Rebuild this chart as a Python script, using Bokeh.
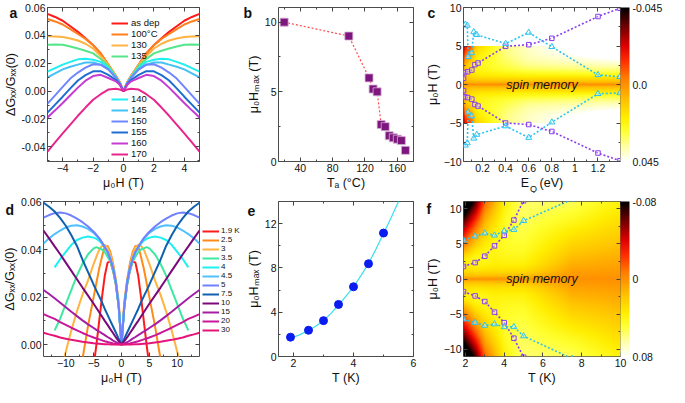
import numpy as np
from bokeh.plotting import figure
from bokeh.layouts import row, column
from bokeh.models import (LinearAxis, FixedTicker, CustomJSTickFormatter, PrintfTickFormatter,
                          Legend, LegendItem, Label, LinearColorMapper, ColorBar, Range1d, Title)
from bokeh.embed import file_html
from bokeh.resources import INLINE

FONT = "Liberation Sans"

# ---------------- panel a : dG/G vs field for several annealing temperatures ----------------
H_A = [0, 0.25, 0.5, 1, 1.5, 2, 2.5, 3, 3.5, 4, 4.5, 5]
A_ASDEP = [0, 0.0064, 0.011, 0.019, 0.027, 0.033, 0.038, 0.0425, 0.0465, 0.0505, 0.0532, 0.0554]
A_100 = [0, 0.0064, 0.011, 0.019, 0.027, 0.033, 0.0375, 0.041, 0.0445, 0.0478, 0.050, 0.0517]
A_130 = [0, 0.0062, 0.011, 0.019, 0.025, 0.0306, 0.034, 0.0363, 0.0378, 0.0388, 0.0392, 0.0393]
A_135 = [0, 0.006, 0.0105, 0.018, 0.023, 0.0271, 0.029, 0.0306, 0.032, 0.0332, 0.0334, 0.0333]
A_140 = [0, 0.0058, 0.010, 0.0168, 0.021, 0.0225, 0.0232, 0.0228, 0.021, 0.019, 0.0165, 0.014]
A_145 = [0, 0.0057, 0.0098, 0.0156, 0.019, 0.0205, 0.0205, 0.019, 0.0175, 0.0156, 0.0128, 0.0099]
A_150 = [0, 0.0056, 0.0096, 0.0156, 0.019, 0.0193, 0.0168, 0.0133, 0.009, 0.003, -0.003, -0.009]
A_155 = [0, 0.005, 0.008, 0.0117, 0.0143, 0.0142, 0.0115, 0.0076, 0.002, -0.004, -0.0097, -0.0154]
A_160 = [0, 0.0045, 0.007, 0.0094, 0.0117, 0.0108, 0.0075, 0.0025, -0.003, -0.0085, -0.0138, -0.0189]
A_170 = [0, 0.0012, 0.0017, 0.0011, -0.0022, -0.0062, -0.0118, -0.0177, -0.024, -0.0303, -0.0368, -0.0434]
A_LABELS = ["as dep", "100°C", "130", "135", "140", "145", "150", "155", "160", "170"]
A_COLORS = ["#ff1a1a", "#ff7f1a", "#ffb340", "#55e58a", "#1ef0f0", "#45c2f5", "#6f86ff",
            "#1e6ed2", "#c63cd2", "#e6268c"]

# ---------------- panel b : Hmax vs annealing temperature ----------------
TA_B = [20, 100, 125, 130, 135, 140, 145, 150, 155, 160, 165, 170]
HMAX_B = [10.0, 9.0, 6.0, 5.2, 5.0, 2.65, 2.5, 1.85, 1.7, 1.6, 1.5, 0.8]

# ---------------- panel c : map vs E_Q ----------------
# E_Q position of each panel-a curve in the colour map
E_COLS = [0.035, 0.044, 0.071, 0.107, 0.134, 0.161, 0.4, 0.6, 1.2, 1.39]
SQ_C_E = [0.035, 0.044, 0.071, 0.107, 0.134, 0.161, 0.4, 0.6, 0.8, 1.2, 1.39]
SQ_C_UP = [0.8, 1.55, 1.67, 1.88, 2.58, 2.79, 4.96, 5.17, 6.0, 8.83, 9.9]
SQ_C_DN = [-0.8, -1.6, -1.7, -1.9, -2.6, -2.8, -5.0, -5.2, -6.1, -8.9, -9.9]
TR_C_E = [0.051, 0.068, 0.075, 0.105, 0.124, 0.15, 0.4, 0.6, 0.8, 1.2, 1.39]
TR_C_UP = [7.8, 7.67, 3.6, 4.1, 6.83, 6.46, 5.3, 6.75, 4.9, 1.25, 1.0]
TR_C_DN = [-7.9, -7.6, -3.6, -4.1, -7.0, -6.5, -5.4, -6.9, -4.9, -1.2, -1.1]

# ---------------- panel d : dG/G vs field at several temperatures ----------------
H_D = [0, 0.5, 1, 1.5, 2, 2.5, 3, 3.5, 4, 4.5, 5, 6, 7, 8, 9, 10, 11, 12, 13, 14]
D_19 = [0, 0.016, 0.025, 0.031, 0.035, 0.0345, 0.029, 0.020, 0.010, 0.000, -0.009, -0.027, -0.045, -0.063, -0.081, -0.099, -0.117, -0.135, -0.153, -0.171]
D_25 = [0, 0.018, 0.027, 0.034, 0.039, 0.0415, 0.0415, 0.037, 0.032, 0.026, 0.020, 0.008, -0.006, -0.021, -0.037, -0.053, -0.069, -0.085, -0.101, -0.117]
D_3 = [0, 0.017, 0.026, 0.033, 0.038, 0.041, 0.042, 0.0415, 0.040, 0.037, 0.034, 0.027, 0.021, 0.014, 0.006, -0.003, -0.012, -0.022, -0.032, -0.042]
D_35 = [0, 0.016, 0.025, 0.031, 0.035, 0.037, 0.039, 0.040, 0.0405, 0.041, 0.0405, 0.038, 0.034, 0.029, 0.023, 0.017, 0.011, 0.006, None, None]
D_4 = [0, 0.016, 0.026, 0.032, 0.036, 0.039, 0.041, 0.0425, 0.0437, 0.0445, 0.045, 0.0455, 0.045, 0.044, 0.042, 0.039, 0.036, 0.0325, None, None]
D_45 = [0, 0.016, 0.026, 0.032, 0.036, 0.039, 0.041, 0.043, 0.0445, 0.0458, 0.047, 0.0487, 0.0497, 0.0502, 0.050, 0.0493, 0.048, 0.0465, 0.0447, 0.0425]
D_5 = [0, 0.016, 0.026, 0.032, 0.036, 0.039, 0.041, 0.043, 0.0448, 0.0462, 0.0475, 0.0497, 0.0515, 0.053, 0.0543, 0.0552, 0.0556, 0.0553, 0.0545, 0.0534]
D_75 = [0, 0.0025, 0.005, 0.0075, 0.010, 0.0125, 0.015, 0.0178, 0.0203, 0.0227, 0.0252, 0.0305, 0.0357, 0.0415, 0.046, 0.050, 0.0532, 0.056, 0.058, 0.0597]
D_10 = [0, 0.0015, 0.003, 0.0048, 0.0065, 0.0083, 0.010, 0.0118, 0.0136, 0.0154, 0.0172, 0.0206, 0.024, 0.0275, 0.031, 0.0345, 0.038, 0.0413, 0.0447, 0.048]
D_15 = [0, 0.0005, 0.001, 0.0017, 0.0025, 0.0032, 0.004, 0.0047, 0.0055, 0.0062, 0.007, 0.0085, 0.0102, 0.012, 0.0138, 0.0157, 0.0176, 0.0195, 0.0213, 0.023]
D_20 = [0, 0.0001, 0.0003, 0.0005, 0.0008, 0.0011, 0.0014, 0.0018, 0.0022, 0.0026, 0.003, 0.0039, 0.0049, 0.006, 0.0071, 0.0083, 0.0095, 0.0108, 0.0118, 0.0128]
D_30 = [0, 0.0, 0.00003, 0.0001, 0.0001, 0.00015, 0.0002, 0.0003, 0.0004, 0.0005, 0.0006, 0.0009, 0.0012, 0.0016, 0.002, 0.0025, 0.003, 0.0037, 0.0043, 0.005]
D_LABELS = ["1.9 K", "2.5", "3", "3.5", "4", "4.5", "5", "7.5", "10", "15", "20", "30"]
D_COLORS = ["#ff1a1a", "#ff8a1a", "#ffb340", "#3ee8a0", "#1ef0f0", "#50c0ff", "#7080ff",
            "#1060b0", "#7a0a7a", "#a51fa5", "#c8189a", "#e51478"]

# ---------------- panel e : Hmax vs T ----------------
T_E = [1.9, 2.5, 3.0, 3.5, 4.0, 4.5, 5.0]
HMAX_E = [1.75, 2.37, 3.24, 4.7, 6.3, 8.38, 11.15]
FIT_T = [1.9, 2.2, 2.5, 2.75, 3.0, 3.25, 3.5, 3.75, 4.0, 4.25, 4.5, 4.75, 5.0, 5.25, 5.5, 5.6]
FIT_H = [1.65, 1.95, 2.35, 2.75, 3.25, 3.9, 4.65, 5.45, 6.3, 7.3, 8.4, 9.7, 11.1, 12.5, 14.0, 14.6]

# ---------------- panel f : map vs T ----------------
T_COLS = [1.9, 2.5, 3, 3.5, 4, 4.5, 5, 7.5, 10]
SQ_F_T = [1.9, 2.5, 3, 3.5, 4, 4.5, 5]
SQ_F_UP = [1.78, 2.33, 3.24, 4.7, 6.2, 8.36, 11.1]
SQ_F_DN = [-1.8, -2.4, -3.2, -4.7, -6.2, -8.4, -11.1]
TR_F_T = [1.9, 2.5, 3, 3.5, 4, 4.5, 5, 7.5]
TR_F_UP = [5.5, 6.07, 6.5, 6.2, 6.8, 7.0, 8.26, 11.3]
TR_F_DN = [-5.7, -6.2, -6.6, -6.4, -6.8, -6.8, -8.1, -11.3]

# colour map anchors (black -> red -> orange -> yellow -> white)
ANCH_T = [0, 0.12, 0.25, 0.35, 0.45, 0.52, 0.62, 0.72, 0.8, 0.9, 1.0]
ANCH_C = ["#000000", "#6e0000", "#e00000", "#ff3000", "#ff7800", "#ff9a00", "#ffc800",
          "#ffee00", "#ffff30", "#ffffa0", "#ffffff"]


def make_palette(n=256):
    rgb = np.array([[int(c[i:i + 2], 16) for i in (1, 3, 5)] for c in ANCH_C], float)
    t = np.linspace(0, 1, n)
    out = []
    for v in t:
        r, g, b = (int(round(np.interp(v, ANCH_T, rgb[:, k]))) for k in range(3))
        out.append("#%02x%02x%02x" % (r, g, b))
    return out


PAL = make_palette()


def mirror(h, v):
    h = np.asarray(h, float)
    v = np.asarray(v, float)
    return np.concatenate([-h[:0:-1], h]), np.concatenate([v[:0:-1], v])


def heat(cols_x, curves, h_half, xg, hg):
    prof = []
    for c in curves:
        hx, vy = mirror(h_half, c)
        ok = np.isfinite(vy)
        prof.append(np.interp(hg, hx[ok], vy[ok]))
    prof = np.array(prof)
    return np.array([np.interp(xg, cols_x, prof[:, i]) for i in range(len(hg))])


def base_fig(w, h, xr, yr, bl, br, bt, bb):
    p = figure(width=w, height=h, x_range=Range1d(*xr), y_range=Range1d(*yr),
               output_backend="svg", toolbar_location=None,
               min_border_left=bl, min_border_right=br, min_border_top=bt, min_border_bottom=bb)
    p.grid.visible = False
    p.outline_line_color = "#4d4d4d"
    p.outline_line_width = 1
    return p


def set_standoff(t, s):
    try:
        t.standoff = s
    except Exception:
        t.standoff = 0


def letter(p, txt, offset, standoff):
    # panel letter drawn by the plot title, pulled down beside the frame's top-left corner
    t = p.title
    t.text = txt
    t.align = "left"
    t.vertical_align = "bottom"
    t.offset = offset
    t.text_font = FONT
    t.text_font_size = "14px"
    t.text_font_style = "bold"
    t.text_color = "#111111"
    set_standoff(t, standoff)


def tick_style(ax):
    ax.axis_line_color = None
    ax.major_tick_in = 4
    ax.major_tick_out = 0
    ax.minor_tick_in = 2
    ax.minor_tick_out = 0
    ax.major_tick_line_color = "#444444"
    ax.minor_tick_line_color = "#444444"


def style_axes(p, xt, xm, yt, ym, xlab, ylab, xfmt=None, yfmt=None):
    for ax, t, m, lab, fmt in ((p.xaxis[0], xt, xm, xlab, xfmt), (p.yaxis[0], yt, ym, ylab, yfmt)):
        ax.ticker = FixedTicker(ticks=t, minor_ticks=m)
        if fmt is not None:
            ax.formatter = fmt
        ax.axis_label = lab
        tick_style(ax)
        ax.major_label_text_font = FONT
        ax.major_label_text_font_size = "10.5px"
        ax.major_label_text_color = "#111111"
        ax.major_label_standoff = 2
        ax.axis_label_text_font = FONT
        ax.axis_label_text_font_size = "12.5px"
        ax.axis_label_text_font_style = "normal"
        ax.axis_label_text_color = "#111111"
        ax.axis_label_standoff = 1
    for loc, t, m in (("above", xt, xm), ("right", yt, ym)):
        ax = LinearAxis(ticker=FixedTicker(ticks=t, minor_ticks=m),
                        formatter=CustomJSTickFormatter(code="return ''"))
        tick_style(ax)
        ax.major_label_standoff = 0
        ax.major_label_text_font_size = "0px"
        p.add_layout(ax, loc)


def make_legend(items, x, y, fs, standoff=3, spacing=0):
    return Legend(items=items, location=(x, y), padding=0, margin=0, spacing=spacing,
                  label_height=8, glyph_height=8, glyph_width=17, label_standoff=standoff,
                  label_text_font=FONT, label_text_font_size=fs, label_text_color="#111111",
                  background_fill_alpha=0, border_line_alpha=0)


def colorbar(p, low, high, labels):
    cm = LinearColorMapper(palette=PAL[::-1], low=low, high=high)
    code = ("return tick > %g ? '%s' : (tick < %g ? '%s' : '%s');"
            % (high * 0.5, labels[0], low * 0.5, labels[2], labels[1]))
    cb = ColorBar(color_mapper=cm, ticker=FixedTicker(ticks=[low, 0, high]),
                  formatter=CustomJSTickFormatter(code=code),
                  width=9, padding=0, margin=3, label_standoff=3,
                  major_tick_line_color=None, bar_line_color=None, border_line_color=None,
                  background_fill_alpha=0,
                  major_label_text_font=FONT, major_label_text_font_size="10.5px",
                  major_label_text_color="#111111")
    p.add_layout(cb, "right")


PCT = PrintfTickFormatter(format="%.2f")
NB = "\u00a0"

# sizes
W1, W2, W3 = 240, 182, 247
WD, WLEG = 202, 38
H1, H2 = 193, 194

# ================= panel a =================
pa = base_fig(W1, H1, (-5, 5), (-0.0505, 0.06), 39, 41, 7, 32)
style_axes(pa, [-4, -2, 0, 2, 4], [-5, -3, -1, 1, 3, 5],
           [-0.04, -0.02, 0, 0.02, 0.04, 0.06], [-0.05, -0.03, -0.01, 0.01, 0.03, 0.05],
           "μ₀H (T)", "ΔGₓₓ/Gₓₓ(0)", yfmt=PCT)
letter(pa, "a", -38, -26)
a_curves = [A_ASDEP, A_100, A_130, A_135, A_140, A_145, A_150, A_155, A_160, A_170]
a_items = []
for lab, col, cur in zip(A_LABELS, A_COLORS, a_curves):
    hx, vy = mirror(H_A, cur)
    r = pa.line(hx, vy, line_color=col, line_width=2)
    a_items.append(LegendItem(label=lab, renderers=[r]))
pa.add_layout(make_legend(a_items[:4], 64, 100, "9.5px", spacing=-1))
pa.add_layout(make_legend(a_items[4:], 64, 2, "9.5px", spacing=-1))

# ================= panel b =================
pb = base_fig(W2, H1, (13, 180), (0, 11.05), 38, 9, 7, 32)
style_axes(pb, [40, 80, 120, 160], [20, 60, 100, 140, 180], [0, 5, 10], [2.5, 7.5],
           "Tₐ (°C)", "μ₀Hₘₐₓ (T)")
letter(pb, "b", -35, -26)
pb.line(TA_B, HMAX_B, line_color="#ff4a4a", line_dash="2 2", line_width=1.2)
pb.scatter(TA_B, HMAX_B, marker="square", size=8, fill_color="#7d167d",
           line_color="#d9b3d9", line_width=0.8)

# ================= panel c =================
pc = base_fig(W3, H1, (0.035, 1.395), (-10, 10), 40, 49, 7, 32)
style_axes(pc, [0.2, 0.4, 0.6, 0.8, 1.0, 1.2], [0.1, 0.3, 0.5, 0.7, 0.9, 1.1, 1.3],
           [-10, -5, 0, 5, 10], [-7.5, -2.5, 2.5, 7.5], "E" + NB * 3 + "(eV)", "μ₀H (T)")
letter(pc, "c", -36, -26)
q_title = Title(text="Q", align="left", vertical_align="top", offset=66.5,
                text_font=FONT, text_font_size="9px", text_font_style="normal", text_color="#111111")
set_standoff(q_title, -17)
pc.add_layout(q_title, "below")
c_curves = [A_170, A_160, A_155, A_150, A_145, A_140, A_135, A_130, A_100, A_ASDEP]
eg = np.linspace(0.035, 1.395, 320)
hg = np.linspace(-5, 5, 401)
img_c = heat(E_COLS, c_curves, H_A, eg, hg)
map_c = LinearColorMapper(palette=PAL, low=-0.045, high=0.045)
pc.image(image=[img_c], x=0.035, y=-5, dw=1.36, dh=10, color_mapper=map_c)
for ys in (SQ_C_UP, SQ_C_DN):
    pc.line(SQ_C_E, ys, line_color="#8a3df0", line_dash="2 2", line_width=1.6)
for ys in (TR_C_UP, TR_C_DN):
    pc.line(TR_C_E, ys, line_color="#2cc3f0", line_dash="2 2", line_width=1.6)
for ys in (SQ_C_UP, SQ_C_DN):
    pc.scatter(SQ_C_E, ys, marker="square", size=4.5, fill_color="white", fill_alpha=0.35,
               line_color="#8a3df0", line_width=1)
for ys in (TR_C_UP, TR_C_DN):
    pc.scatter(TR_C_E, ys, marker="triangle", size=6, fill_color="white", fill_alpha=0.35,
               line_color="#2cc3f0", line_width=1)
pc.add_layout(Label(x=0.715, y=0, text="spin memory", text_align="center", text_baseline="middle",
                    text_font=FONT, text_font_style="italic", text_font_size="12.5px",
                    text_color="#111111"))
colorbar(pc, -0.045, 0.045, ["-0.045", "0.0", "0.045"])

# ================= panel d =================
pd = base_fig(WD, H2, (-14, 14), (-0.005, 0.0602), 39, 3, 8, 30)
style_axes(pd, [-10, -5, 0, 5, 10], [-12.5, -7.5, -2.5, 2.5, 7.5, 12.5],
           [0, 0.02, 0.04, 0.06], [0.01, 0.03, 0.05],
           "μ₀H (T)", "ΔGₓₓ/Gₓₓ(0)", yfmt=PCT)
letter(pd, "d", -38, -32)
d_curves = [D_19, D_25, D_3, D_35, D_4, D_45, D_5, D_75, D_10, D_15, D_20, D_30]
for col, cur in zip(D_COLORS, d_curves):
    hx, vy = mirror(H_D, cur)
    pd.line(hx, vy, line_color=col, line_width=2)

# legend of panel d, in its own narrow plot to the right of the frame
# (the same curves are drawn there, outside its visible x range, as legend proxies)
pleg = figure(width=WLEG, height=H2, x_range=Range1d(1000, 1001), y_range=Range1d(0, 1),
              x_axis_type=None, y_axis_type=None, output_backend="svg", toolbar_location=None,
              min_border_left=0, min_border_right=0, min_border_top=0, min_border_bottom=0)
pleg.grid.visible = False
pleg.outline_line_color = None
d_items = []
for lab, col, cur in zip(D_LABELS, D_COLORS, d_curves):
    hx, vy = mirror(H_D, cur)
    r = pleg.line(hx, vy, line_color=col, line_width=2)
    d_items.append(LegendItem(label=lab, renderers=[r]))
pleg.add_layout(make_legend(d_items, 0, 22, "8px", standoff=2, spacing=-2))

# ================= panel e =================
pe = base_fig(W2, H2, (1.5, 6), (0, 14), 38, 9, 8, 30)
style_axes(pe, [2, 4, 6], [3, 5], [0, 4, 8, 12], [2, 6, 10, 14], "T (K)", "μ₀Hₘₐₓ (T)")
letter(pe, "e", -31, -28)
pe.line(FIT_T, FIT_H, line_color="#38e0ea", line_width=1.2)
pe.scatter(T_E, HMAX_E, marker="circle", size=8, fill_color="#0a1cf0", line_color="#0a1cf0")

# ================= panel f =================
pf = base_fig(W3, H2, (1.9, 10), (-11, 11), 40, 49, 8, 30)
style_axes(pf, [2, 4, 6, 8, 10], [3, 5, 7, 9], [-10, -5, 0, 5, 10], [-7.5, -2.5, 2.5, 7.5],
           "T (K)", "μ₀H (T)")
letter(pf, "f", -37, -31)
f_curves = [D_19, D_25, D_3, D_35, D_4, D_45, D_5, D_75, D_10]
tg = np.linspace(1.9, 10, 320)
hg2 = np.linspace(-11, 11, 441)
img_f = heat(T_COLS, f_curves, H_D, tg, hg2)
map_f = LinearColorMapper(palette=PAL, low=-0.08, high=0.08)
pf.image(image=[img_f], x=1.9, y=-11, dw=8.1, dh=22, color_mapper=map_f)
for ys in (SQ_F_UP, SQ_F_DN):
    pf.line(SQ_F_T, ys, line_color="#8a3df0", line_dash="2 2", line_width=1.6)
for ys in (TR_F_UP, TR_F_DN):
    pf.line(TR_F_T, ys, line_color="#2cc3f0", line_dash="2 2", line_width=1.6)
for ys in (SQ_F_UP, SQ_F_DN):
    pf.scatter(SQ_F_T, ys, marker="square", size=4.5, fill_color="white", fill_alpha=0.35,
               line_color="#8a3df0", line_width=1)
for ys in (TR_F_UP, TR_F_DN):
    pf.scatter(TR_F_T, ys, marker="triangle", size=6, fill_color="white", fill_alpha=0.35,
               line_color="#2cc3f0", line_width=1)
pf.add_layout(Label(x=5.95, y=0, text="spin memory", text_align="center", text_baseline="middle",
                    text_font=FONT, text_font_style="italic", text_font_size="12.5px",
                    text_color="#111111"))
colorbar(pf, -0.08, 0.08, ["-0.08", "0", "0.08"])

layout = column(row(pa, pb, pc), row(pd, pleg, pe, pf))
open("out.html", "w").write(file_html(layout, INLINE))
